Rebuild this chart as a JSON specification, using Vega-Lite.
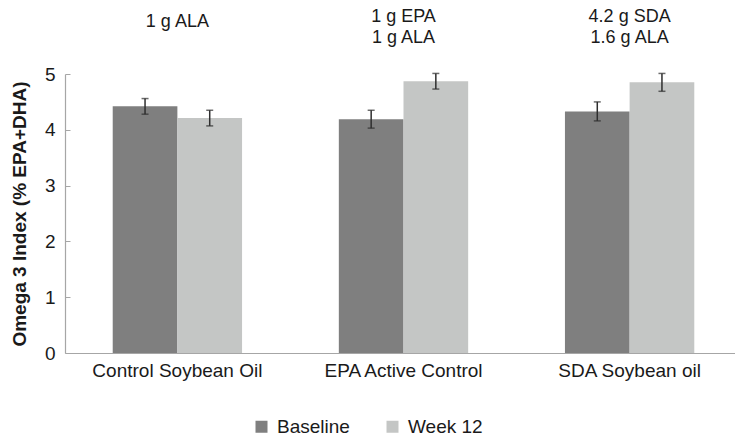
{
  "$schema": "https://vega.github.io/schema/vega-lite/v6.json",
  "width": 677,
  "height": 279,
  "autosize": {"type": "none"},
  "padding": {"left": 65, "top": 74, "right": 0, "bottom": 85},
  "background": "white",
  "config": {
    "view": {"stroke": null},
    "font": "Liberation Sans"
  },
  "datasets": {
    "bars": [
      {"group": "Control Soybean Oil", "series": "Baseline", "value": 4.42, "lo": 4.28, "hi": 4.56},
      {"group": "Control Soybean Oil", "series": "Week 12", "value": 4.21, "lo": 4.07, "hi": 4.35},
      {"group": "EPA Active Control", "series": "Baseline", "value": 4.19, "lo": 4.03, "hi": 4.35},
      {"group": "EPA Active Control", "series": "Week 12", "value": 4.87, "lo": 4.73, "hi": 5.01},
      {"group": "SDA Soybean oil", "series": "Baseline", "value": 4.33, "lo": 4.16, "hi": 4.50},
      {"group": "SDA Soybean oil", "series": "Week 12", "value": 4.85, "lo": 4.69, "hi": 5.01}
    ],
    "notes": [
      {"group": "Control Soybean Oil", "label": "1 g ALA", "pos": 5.94},
      {"group": "EPA Active Control", "label": "1 g EPA", "pos": 6.02},
      {"group": "EPA Active Control", "label": "1 g ALA", "pos": 5.65},
      {"group": "SDA Soybean oil", "label": "4.2 g SDA", "pos": 6.02},
      {"group": "SDA Soybean oil", "label": "1.6 g ALA", "pos": 5.65}
    ]
  },
  "layer": [
    {
      "data": {"name": "bars"},
      "mark": {"type": "bar"},
      "encoding": {
        "x": {
          "field": "group", "type": "nominal",
          "sort": ["Control Soybean Oil", "EPA Active Control", "SDA Soybean oil"],
          "scale": {"paddingInner": 0.428, "paddingOuter": 0.211},
          "axis": {
            "title": null, "ticks": false, "labelAngle": 0,
            "domainColor": "#a6a6a6", "domainWidth": 1.2,
            "labelFontSize": 19, "labelColor": "#1a1a1a", "labelPadding": 8
          }
        },
        "xOffset": {"field": "series", "type": "nominal", "sort": ["Baseline", "Week 12"]},
        "y": {
          "field": "value", "type": "quantitative",
          "scale": {"domain": [0, 5], "nice": false},
          "axis": {
            "title": "Omega 3 Index (% EPA+DHA)",
            "titleFontSize": 19, "titleFontWeight": "bold", "titleColor": "#1a1a1a",
            "titlePadding": 15,
            "values": [0, 1, 2, 3, 4, 5],
            "grid": false,
            "domainColor": "#a6a6a6", "domainWidth": 1.2,
            "tickColor": "#a6a6a6", "tickSize": -5,
            "labelFontSize": 19, "labelColor": "#1a1a1a", "labelPadding": 15
          }
        },
        "color": {
          "field": "series", "type": "nominal",
          "scale": {"domain": ["Baseline", "Week 12"], "range": ["#7f7f7f", "#c4c6c5"]},
          "legend": {
            "title": null, "orient": "none", "direction": "horizontal",
            "legendX": 187, "legendY": 343,
            "symbolType": "square", "symbolSize": 144, "symbolStrokeWidth": 0,
            "labelOffset": 6,
            "labelFontSize": 19, "labelColor": "#1a1a1a", "columnPadding": 33
          }
        }
      }
    },
    {
      "data": {"name": "bars"},
      "mark": {"type": "rule", "color": "#2e2e2e", "strokeWidth": 1.5},
      "encoding": {
        "x": {"field": "group", "type": "nominal", "sort": ["Control Soybean Oil", "EPA Active Control", "SDA Soybean oil"]},
        "xOffset": {"field": "series", "type": "nominal", "sort": ["Baseline", "Week 12"]},
        "y": {"field": "lo", "type": "quantitative"},
        "y2": {"field": "hi"}
      }
    },
    {
      "data": {"name": "bars"},
      "mark": {"type": "tick", "color": "#2e2e2e", "thickness": 1.5, "size": 7},
      "encoding": {
        "x": {"field": "group", "type": "nominal", "sort": ["Control Soybean Oil", "EPA Active Control", "SDA Soybean oil"]},
        "xOffset": {"field": "series", "type": "nominal", "sort": ["Baseline", "Week 12"]},
        "y": {"field": "lo", "type": "quantitative"}
      }
    },
    {
      "data": {"name": "bars"},
      "mark": {"type": "tick", "color": "#2e2e2e", "thickness": 1.5, "size": 7},
      "encoding": {
        "x": {"field": "group", "type": "nominal", "sort": ["Control Soybean Oil", "EPA Active Control", "SDA Soybean oil"]},
        "xOffset": {"field": "series", "type": "nominal", "sort": ["Baseline", "Week 12"]},
        "y": {"field": "hi", "type": "quantitative"}
      }
    },
    {
      "data": {"name": "notes"},
      "mark": {"type": "text", "fontSize": 18, "color": "#1a1a1a", "baseline": "middle", "align": "center"},
      "encoding": {
        "x": {"field": "group", "type": "nominal", "sort": ["Control Soybean Oil", "EPA Active Control", "SDA Soybean oil"]},
        "y": {"field": "pos", "type": "quantitative"},
        "text": {"field": "label"}
      }
    }
  ]
}
